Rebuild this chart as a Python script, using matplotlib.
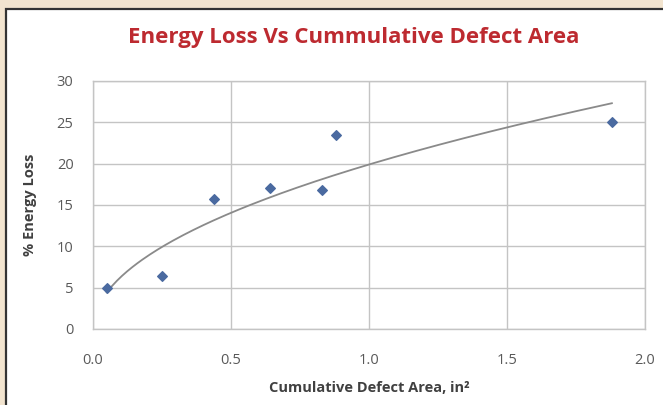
import numpy as np
import matplotlib.pyplot as plt
from matplotlib.patches import Rectangle

# data
defect_area = [0.05, 0.25, 0.44, 0.64, 0.83, 0.88, 1.88]
energy_loss = [5.0, 6.4, 15.7, 17.1, 16.8, 23.5, 25.1]

x_ticks = [0.0, 0.5, 1.0, 1.5, 2.0]
y_ticks = [0, 5, 10, 15, 20, 25, 30]

# power trendline fitted in log space (like Excel's power trend)
b, log_a = np.polyfit(np.log(defect_area), np.log(energy_loss), 1)
trend_x = np.linspace(min(defect_area), max(defect_area), 200)
trend_y = np.exp(log_a) * trend_x ** b

plt.rcParams["font.family"] = ["Open Sans", "DejaVu Sans"]

fig = plt.figure(figsize=(6.63, 4.05), dpi=100)
fig.patch.set_facecolor("#f2e4cf")

# white chart frame
frame = Rectangle((6 / 663, -0.05), 1.2, 1 - 9 / 405 + 0.05,
                  transform=fig.transFigure, facecolor="white",
                  edgecolor="#333333", linewidth=1.6, zorder=-5)
fig.patches.append(frame)

ax = fig.add_axes([93 / 663, 1 - 329 / 405, 552 / 663, 248 / 405])
ax.set_zorder(5)
ax.set_facecolor("white")

ax.plot(trend_x, trend_y, color="#8a8a8a", linewidth=1.3, zorder=2)
ax.scatter(defect_area, energy_loss, marker="D", s=24, color="#4a6aa0",
           zorder=3)

ax.set_xlim(0, 2.0)
ax.set_ylim(0, 30)
ax.set_xticks(x_ticks)
ax.set_yticks(y_ticks)
ax.set_xticklabels([f"{v:.1f}" for v in x_ticks])
ax.grid(True, color="#c4c4c4", linewidth=1.0)
ax.set_axisbelow(True)
for spine in ax.spines.values():
    spine.set_edgecolor("#c4c4c4")
    spine.set_linewidth(1.0)

ax.tick_params(axis="both", length=0, colors="#595959", labelsize=10.5)
ax.tick_params(axis="x", pad=17)
ax.tick_params(axis="y", pad=14)

ax.set_xlabel("Cumulative Defect Area, in²", fontsize=10.5, fontweight="bold",
              color="#404040", labelpad=10)
ax.set_ylabel("% Energy Loss", fontsize=10.5, fontweight="bold",
              color="#404040", labelpad=14)

fig.text(354 / 663, 1 - 37 / 405, "Energy Loss Vs Cummulative Defect Area",
         ha="center", va="center", fontsize=16, fontweight="bold",
         color="#bd2a30", zorder=6)

fig.savefig("out.png", dpi=100, facecolor=fig.get_facecolor())
